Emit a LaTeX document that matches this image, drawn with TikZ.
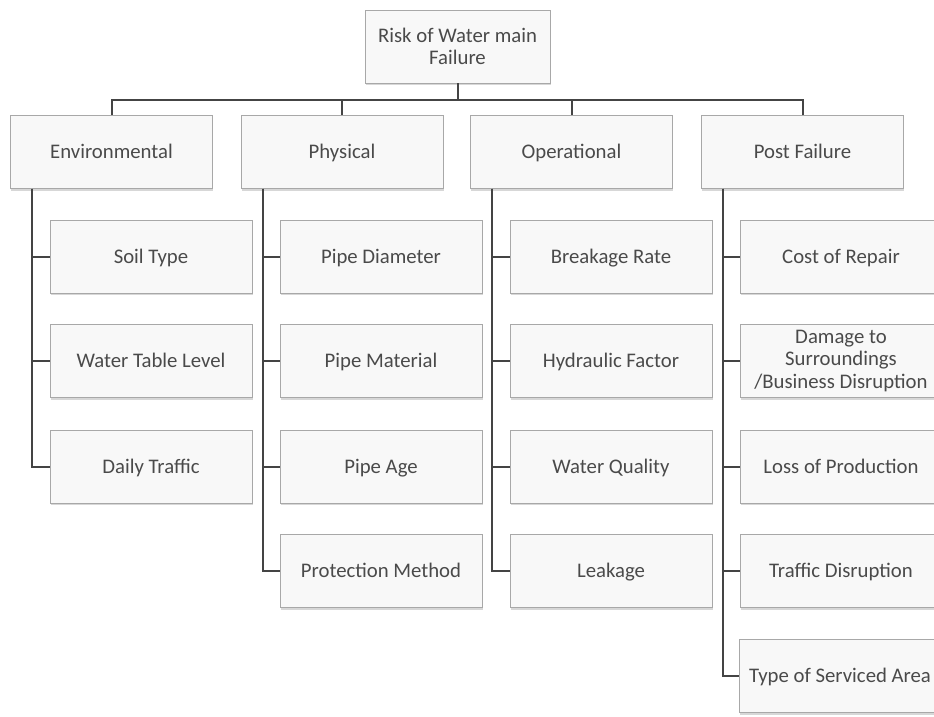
\documentclass[tikz,border=0pt]{standalone}
\usepackage{fontspec}
\setmainfont{Carlito}
\usetikzlibrary{shadows}
\definecolor{boxline}{HTML}{A8A8A8}
\definecolor{boxfill}{HTML}{F8F8F8}
\definecolor{boxtext}{HTML}{4A4A4A}
\definecolor{linkline}{HTML}{444444}
\tikzset{
    box/.style={draw=boxline, fill=boxfill, line width=0.9pt,
                minimum width=202pt, minimum height=73pt, inner sep=0pt,
                align=center, text=boxtext,
                text height=16pt, text depth=3pt,
                font=\fontsize{20.75}{22.5}\selectfont,
                drop shadow={shadow xshift=0.5pt, shadow yshift=-2pt,
                             opacity=0.45, fill=gray!70}},
    multibox/.style={box, text height={}, text depth={}},
    topbox/.style={multibox, minimum width=185pt},
    link/.style={draw=linkline, line width=2pt},
}
\begin{document}
\begin{tikzpicture}[x=1pt, y=-1pt]

    \useasboundingbox (0,0) rectangle (934,717);

    \node[topbox] (risk) at (457.5,46.5) {Risk of Water main\\Failure};

    \node[box] (env)  at (111.5,152) {Environmental};
    \node[box] (phys) at (342,152)   {Physical};
    \node[box] (oper) at (571.5,152) {Operational};
    \node[box] (post) at (802.5,152) {Post Failure};

    \node[box] (soil)    at (151,256.5) {Soil Type};
    \node[box] (water)   at (151,361)   {Water Table Level};
    \node[box] (traffic) at (151,466.5) {Daily Traffic};

    \node[box] (diam)  at (381,256.5) {Pipe Diameter};
    \node[box] (mat)   at (381,361)   {Pipe Material};
    \node[box] (age)   at (381,466.5) {Pipe Age};
    \node[box] (prot)  at (381,571)   {Protection Method};

    \node[box] (break) at (611,256.5) {Breakage Rate};
    \node[box] (hydr)  at (611,361)   {Hydraulic Factor};
    \node[box] (qual)  at (611,466.5) {Water Quality};
    \node[box] (leak)  at (611,571)   {Leakage};

    \node[box] (cost)   at (841,256.5) {Cost of Repair};
    \node[multibox] (damage) at (841,361) {Damage to\\Surroundings\\/Business Disruption};
    \node[box] (loss)   at (841,466.5) {Loss of Production};
    \node[box] (disr)   at (841,571)   {Traffic Disruption};
    \node[box] (area)   at (840,676)   {Type of Serviced Area};

    \foreach \cat in {env,phys,oper,post}
        \draw[link] (\cat.north) -- ++(0,-15) -| (risk.south);

    \foreach \kid in {soil,water,traffic}
        \draw[link] ([xshift=22pt]env.south west) |- (\kid.west);
    \foreach \kid in {diam,mat,age,prot}
        \draw[link] ([xshift=22pt]phys.south west) |- (\kid.west);
    \foreach \kid in {break,hydr,qual,leak}
        \draw[link] ([xshift=22pt]oper.south west) |- (\kid.west);
    \foreach \kid in {cost,damage,loss,disr,area}
        \draw[link] ([xshift=22pt]post.south west) |- (\kid.west);

\end{tikzpicture}
\end{document}
